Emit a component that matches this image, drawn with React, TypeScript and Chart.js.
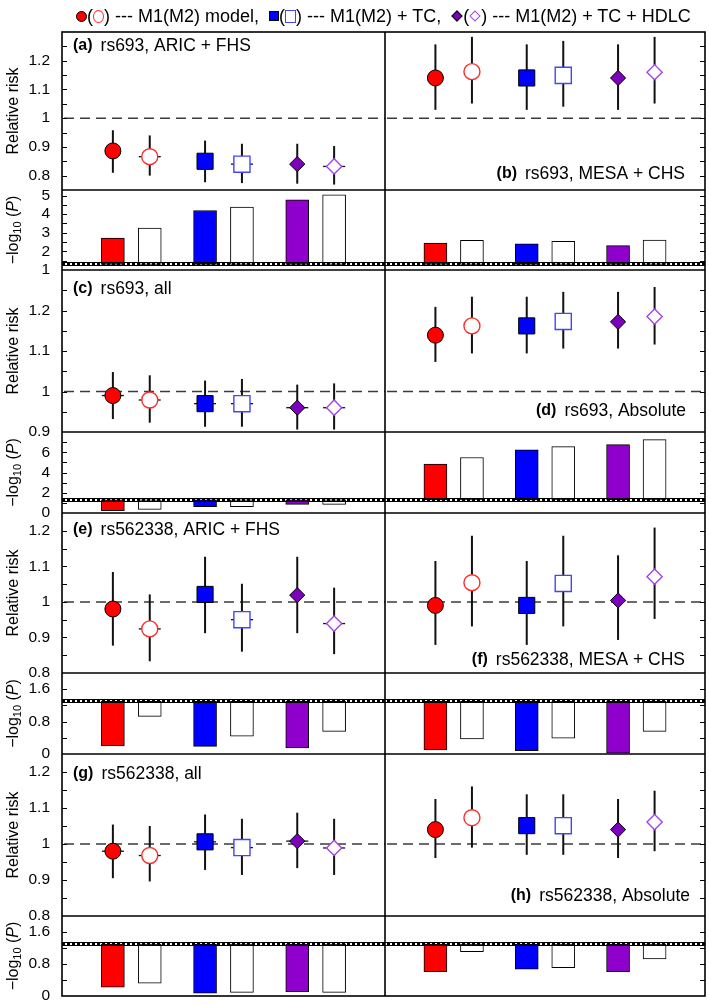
import React, { useEffect, useRef } from 'react';
import { Chart, registerables } from 'chart.js';

Chart.register(...registerables);

const FONT = '"Liberation Sans", Arial, Helvetica, sans-serif';

// ---------------- data ----------------
const MODELS = ['M1', 'M2', 'M1 + TC', 'M2 + TC', 'M1 + TC + HDLC', 'M2 + TC + HDLC'];
const X_POS = [1, 2, 3.5, 4.5, 6, 7];
const X_MIN = -0.38;
const X_MAX = 8.38;

const PANEL_TAGS = ['(a)', '(b)', '(c)', '(d)', '(e)', '(f)', '(g)', '(h)'];
const PANEL_TITLES = [
  'rs693, ARIC + FHS',
  'rs693, MESA + CHS',
  'rs693, all',
  'rs693, Absolute',
  'rs562338, ARIC + FHS',
  'rs562338, MESA + CHS',
  'rs562338, all',
  'rs562338, Absolute',
];

// relative risk (point estimate), 95% CI and -log10(P) for each panel
const RR_A = [0.886, 0.866, 0.85, 0.84, 0.84, 0.832];
const LO_A = [0.81, 0.8, 0.777, 0.774, 0.772, 0.769];
const HI_A = [0.958, 0.94, 0.922, 0.911, 0.911, 0.903];
const LP_A = [2.72, 3.25, 4.2, 4.38, 4.77, 5.04];

const RR_B = [1.14, 1.162, 1.14, 1.149, 1.14, 1.16];
const LO_B = [1.029, 1.051, 1.029, 1.04, 1.029, 1.051];
const HI_B = [1.257, 1.283, 1.257, 1.269, 1.257, 1.283];
const LP_B = [2.45, 2.59, 2.4, 2.54, 2.31, 2.61];

const RR_C = [0.99, 0.979, 0.97, 0.97, 0.96, 0.96];
const LO_C = [0.932, 0.923, 0.913, 0.913, 0.906, 0.906];
const HI_C = [1.048, 1.04, 1.027, 1.031, 1.017, 1.02];
const LP_C = [0.23, 0.36, 0.62, 0.62, 0.85, 0.85];

const RR_D = [1.139, 1.162, 1.162, 1.173, 1.172, 1.185];
const LO_D = [1.073, 1.094, 1.094, 1.106, 1.106, 1.116];
const HI_D = [1.209, 1.234, 1.234, 1.246, 1.246, 1.258];
const LP_D = [4.82, 5.48, 6.23, 6.56, 6.75, 7.25];

const RR_E = [0.98, 0.924, 1.021, 0.95, 1.019, 0.939];
const LO_E = [0.877, 0.833, 0.912, 0.86, 0.912, 0.853];
const HI_E = [1.084, 1.021, 1.127, 1.051, 1.127, 1.04];
const LP_E = [0.2, 0.93, 0.19, 0.44, 0.15, 0.56];

const RR_F = [0.99, 1.054, 0.99, 1.052, 1.004, 1.071];
const LO_F = [0.879, 0.931, 0.879, 0.931, 0.893, 0.952];
const HI_F = [1.115, 1.186, 1.115, 1.186, 1.131, 1.209];
const LP_F = [0.1, 0.37, 0.08, 0.39, 0.02, 0.56];

const RR_G = [0.98, 0.968, 1.006, 0.99, 1.008, 0.989];
const LO_G = [0.905, 0.896, 0.928, 0.914, 0.933, 0.914];
const HI_G = [1.054, 1.05, 1.082, 1.07, 1.087, 1.07];
const LP_G = [0.22, 0.32, 0.07, 0.09, 0.11, 0.09];

const RR_H = [1.04, 1.073, 1.051, 1.051, 1.04, 1.061];
const LO_H = [0.961, 0.99, 0.97, 0.97, 0.961, 0.98];
const HI_H = [1.125, 1.16, 1.138, 1.138, 1.125, 1.148];
const LP_H = [0.61, 1.11, 0.67, 0.71, 0.61, 0.93];

const REF_RR = 1;
const P_THRESHOLD = 1.301; // -log10(0.05)

// axis ranges / ticks per row
const RR_MIN = [0.75, 0.9, 0.8, 0.8];
const RR_MAX = [1.3, 1.3, 1.25, 1.25];
const RR_STEP = 0.05;
const RR_LABELS = [
  [0.8, 0.9, 1, 1.1, 1.2],
  [0.9, 1, 1.1, 1.2],
  [0.8, 0.9, 1, 1.1, 1.2],
  [0.8, 0.9, 1, 1.1, 1.2],
];
const LP_MIN = [1, 0, 0, 0];
const LP_MAX = [5.3, 8, 2, 2];
const LP_STEP = [0.5, 1, 0.4, 0.4];
const LP_LABELS = [
  [1, 2, 3, 4, 5],
  [0, 2, 4, 6],
  [0, 0.8, 1.6],
  [0, 0.8, 1.6],
];

const LEGEND_TEXT = ['M1(M2) model', 'M1(M2) + TC', 'M1(M2) + TC + HDLC'];

// ---------------- styles / layout ----------------
const PANELS = [
  { rr: RR_A, lo: LO_A, hi: HI_A, lp: LP_A },
  { rr: RR_B, lo: LO_B, hi: HI_B, lp: LP_B },
  { rr: RR_C, lo: LO_C, hi: HI_C, lp: LP_C },
  { rr: RR_D, lo: LO_D, hi: HI_D, lp: LP_D },
  { rr: RR_E, lo: LO_E, hi: HI_E, lp: LP_E },
  { rr: RR_F, lo: LO_F, hi: HI_F, lp: LP_F },
  { rr: RR_G, lo: LO_G, hi: HI_G, lp: LP_G },
  { rr: RR_H, lo: LO_H, hi: HI_H, lp: LP_H },
];

const RED = '#ff0000';
const BLUE = '#0000ff';
const PURPLE = '#7d00bd';
const BAR_PURPLE = '#9000cc';
const OPEN_RED = '#ff2a2a';
const OPEN_BLUE = '#4444ff';
const OPEN_PURPLE = '#a245e6';

const PT_STYLE = ['circle', 'circle', 'rect', 'rect', 'rectRot', 'rectRot'];
const PT_RADIUS = [8, 8, 11.4, 11.4, 7.6, 7.6];
const PT_FILL = [RED, '#ffffff', BLUE, '#ffffff', PURPLE, '#ffffff'];
const PT_EDGE = ['#000000', OPEN_RED, '#000000', OPEN_BLUE, '#000000', OPEN_PURPLE];
const PT_EDGE_W = [1, 1.4, 1, 1.4, 1, 1.4];
const BAR_FILL = [RED, '#ffffff', BLUE, '#ffffff', BAR_PURPLE, '#ffffff'];

const PLOT_BOX = { left: 62, top: 32, right: 705, bottom: 996 };
const ROW_H = [
  [158, 80],
  [162, 81],
  [160, 81],
  [162, 80],
];
const COL_W = [323, 320];
const Y_AXIS_WIDTH = 62;
const STUB_ON_FILLED = [false, true, false, true];

const LABEL_LAYOUT = [
  { side: 'left', dx: 11, dy: 14 },
  { side: 'right', dx: -20, dy: -16 },
  { side: 'left', dx: 11, dy: 19 },
  { side: 'right', dx: -19, dy: -21 },
  { side: 'left', dx: 11, dy: 17 },
  { side: 'right', dx: -20, dy: -13 },
  { side: 'left', dx: 11, dy: 20 },
  { side: 'right', dx: -15, dy: -20 },
];

// ---------------- helpers ----------------
function tickValues(min: number, max: number, step: number): number[] {
  const out = [min];
  let k = Math.ceil(min / step - 1e-9);
  for (;; k++) {
    const v = +(k * step).toFixed(6);
    if (v > max + 1e-9) break;
    if (Math.abs(v - min) > 1e-9 && Math.abs(v - max) > 1e-9) out.push(v);
  }
  out.push(max);
  return out;
}

const fmt = (v: number) => String(parseFloat(v.toFixed(2)));

function yScale(min: number, max: number, step: number, labels: number[], weight: number, stackWeight: number) {
  return {
    type: 'linear',
    position: 'left',
    stack: 'rows',
    stackWeight,
    weight,
    min,
    max,
    offset: false,
    beginAtZero: false,
    grid: { display: false, offset: false },
    border: { display: false },
    afterBuildTicks: (s: any) => {
      s.ticks = tickValues(min, max, step).map((v) => ({ value: v }));
    },
    afterFit: (s: any) => {
      s.width = Y_AXIS_WIDTH;
    },
    ticks: {
      autoSkip: false,
      padding: 4,
      color: '#000',
      font: { family: FONT, size: 15.5 },
      callback: (v: number) => (labels.some((l) => Math.abs(l - v) < 1e-6) ? fmt(v) : ''),
    },
  };
}

function drawRotated(ctx: CanvasRenderingContext2D, x: number, yc: number, parts: { text: string; font: string; dy?: number }[]) {
  ctx.save();
  ctx.translate(x, yc);
  ctx.rotate(-Math.PI / 2);
  let total = 0;
  parts.forEach((p) => {
    ctx.font = p.font;
    total += ctx.measureText(p.text).width;
  });
  let cx = -total / 2;
  ctx.textBaseline = 'middle';
  ctx.textAlign = 'left';
  ctx.fillStyle = '#000';
  parts.forEach((p) => {
    ctx.font = p.font;
    ctx.fillText(p.text, cx, p.dy || 0);
    cx += ctx.measureText(p.text).width;
  });
  ctx.restore();
}

const figurePlugin = {
  id: 'figure',
  // pin the plot box and the stacked panels to exact row heights / column widths
  afterLayout(chart: any) {
    const a = chart.chartArea;
    a.left = PLOT_BOX.left;
    a.top = PLOT_BOX.top;
    a.right = PLOT_BOX.right;
    a.bottom = PLOT_BOX.bottom;
    a.width = a.right - a.left;
    a.height = a.bottom - a.top;
    let y = a.top;
    for (let r = 0; r < 4; r++) {
      ['yR' + r, 'yP' + r].forEach((id, k) => {
        const s = chart.scales[id];
        const h = ROW_H[r][k];
        s.top = y;
        s.bottom = y + h;
        s.height = h;
        s.left = 0;
        s.right = a.left;
        s.width = a.left;
        s.configure();
        y += h;
      });
    }
    const xL = chart.scales.xL;
    const xR = chart.scales.xR;
    xL.left = a.left;
    xL.right = a.left + COL_W[0];
    xL.width = COL_W[0];
    xL.configure();
    xR.left = xL.right;
    xR.right = a.right;
    xR.width = a.right - xL.right;
    xR.configure();
  },
  beforeDatasetsDraw(chart: any) {
    const ctx: CanvasRenderingContext2D = chart.ctx;
    ctx.save();
    PANELS.forEach((p, idx) => {
      const row = Math.floor(idx / 2);
      const col = idx % 2;
      const xs = chart.scales[col ? 'xR' : 'xL'];
      const ys = chart.scales['yR' + row];
      // reference line RR = 1
      const y1 = ys.getPixelForValue(REF_RR);
      ctx.beginPath();
      ctx.setLineDash([10, 6]);
      ctx.lineDashOffset = -2;
      ctx.strokeStyle = '#3a3a3a';
      ctx.lineWidth = 1.5;
      ctx.moveTo(xs.left, y1);
      ctx.lineTo(xs.right, y1);
      ctx.stroke();
      ctx.setLineDash([]);
      // confidence intervals
      X_POS.forEach((x, i) => {
        const px = xs.getPixelForValue(x);
        ctx.beginPath();
        ctx.strokeStyle = '#111';
        ctx.lineWidth = 2;
        ctx.moveTo(px, ys.getPixelForValue(p.lo[i]));
        ctx.lineTo(px, ys.getPixelForValue(p.hi[i]));
        ctx.stroke();
        if (col === 0 && (i % 2 === 1 || STUB_ON_FILLED[row])) {
          const py = ys.getPixelForValue(p.rr[i]);
          ctx.beginPath();
          ctx.lineWidth = 1.3;
          ctx.moveTo(px - 11, py);
          ctx.lineTo(px + 11, py);
          ctx.stroke();
        }
      });
    });
    ctx.restore();
  },
  afterDatasetsDraw(chart: any) {
    const ctx: CanvasRenderingContext2D = chart.ctx;
    const area = chart.chartArea;
    ctx.save();
    for (let r = 0; r < 4; r++) {
      const ys = chart.scales['yP' + r];
      const y = Math.round(ys.getPixelForValue(P_THRESHOLD));
      ctx.strokeStyle = '#000';
      ctx.lineWidth = 1;
      ctx.beginPath();
      ctx.moveTo(area.left, y - 1.5);
      ctx.lineTo(area.right, y - 1.5);
      ctx.moveTo(area.left, y + 1.5);
      ctx.lineTo(area.right, y + 1.5);
      ctx.stroke();
      ctx.beginPath();
      ctx.lineWidth = 4;
      ctx.setLineDash([3, 2]);
      ctx.moveTo(area.left, y);
      ctx.lineTo(area.right, y);
      ctx.stroke();
      ctx.setLineDash([]);
    }
    ctx.restore();
  },
  afterDraw(chart: any) {
    const ctx: CanvasRenderingContext2D = chart.ctx;
    const area = chart.chartArea;
    const xL = chart.scales.xL;
    const xR = chart.scales.xR;
    ctx.save();
    // inward tick marks
    ctx.strokeStyle = '#000';
    ctx.lineWidth = 1.2;
    for (let r = 0; r < 4; r++) {
      ['yR' + r, 'yP' + r].forEach((id) => {
        const s = chart.scales[id];
        s.ticks.forEach((t: any) => {
          if (Math.abs(t.value - s.min) < 1e-9 || Math.abs(t.value - s.max) < 1e-9) return;
          const py = Math.round(s.getPixelForValue(t.value)) + 0.5;
          ctx.beginPath();
          ctx.moveTo(area.left, py);
          ctx.lineTo(area.left + 5, py);
          ctx.moveTo(area.right, py);
          ctx.lineTo(area.right - 5, py);
          ctx.stroke();
        });
      });
    }
    // frames
    ctx.lineWidth = 1.6;
    ctx.strokeStyle = '#000';
    ctx.strokeRect(area.left, area.top, area.right - area.left, area.bottom - area.top);
    ctx.beginPath();
    ctx.moveTo(xL.right, area.top);
    ctx.lineTo(xL.right, area.bottom);
    for (let r = 0; r < 4; r++) {
      const a = chart.scales['yR' + r];
      const b = chart.scales['yP' + r];
      ctx.moveTo(area.left, a.bottom);
      ctx.lineTo(area.right, a.bottom);
      if (r < 3) {
        ctx.moveTo(area.left, b.bottom);
        ctx.lineTo(area.right, b.bottom);
      }
    }
    ctx.stroke();
    // axis titles
    for (let r = 0; r < 4; r++) {
      const a = chart.scales['yR' + r];
      const b = chart.scales['yP' + r];
      drawRotated(ctx, 14, (a.top + a.bottom) / 2, [{ text: 'Relative risk', font: `16px ${FONT}` }]);
      drawRotated(ctx, 14, (b.top + b.bottom) / 2, [
        { text: '\u2212log', font: `16px ${FONT}` },
        { text: '10', font: `11px ${FONT}`, dy: 4 },
        { text: ' (', font: `16px ${FONT}` },
        { text: 'P', font: `italic 16px ${FONT}` },
        { text: ')', font: `16px ${FONT}` },
      ]);
    }
    // panel labels
    ctx.fillStyle = '#000';
    ctx.textBaseline = 'middle';
    ctx.textAlign = 'left';
    const tagFont = `bold 16px ${FONT}`;
    const titleFont = `17.5px ${FONT}`;
    PANEL_TAGS.forEach((tag, idx) => {
      const row = Math.floor(idx / 2);
      const col = idx % 2;
      const xs = col ? xR : xL;
      const ys = chart.scales['yR' + row];
      const L = LABEL_LAYOUT[idx];
      ctx.font = tagFont;
      const tw = ctx.measureText(tag).width;
      ctx.font = titleFont;
      const sw = ctx.measureText(PANEL_TITLES[idx]).width;
      const gap = 8;
      let x0: number;
      let y: number;
      if (L.side === 'left') {
        x0 = xs.left + L.dx;
        y = ys.top + L.dy;
      } else {
        x0 = xs.right + L.dx - sw - gap - tw;
        y = ys.bottom + L.dy;
      }
      ctx.font = tagFont;
      ctx.fillText(tag, x0, y);
      ctx.font = titleFont;
      ctx.fillText(PANEL_TITLES[idx], x0 + tw + gap, y);
    });
    ctx.restore();
  },
};

function xScale(weight: number, stackWeight: number) {
  return {
    type: 'linear',
    position: 'bottom',
    display: false,
    stack: 'cols',
    stackWeight,
    weight,
    min: X_MIN,
    max: X_MAX,
    offset: false,
    grid: { offset: false },
  };
}

function buildConfig(): any {
  const scales: any = {
    xL: xScale(0, COL_W[0]),
    xR: xScale(1, COL_W[1]),
  };
  let w = 8;
  for (let r = 0; r < 4; r++) {
    scales['yR' + r] = yScale(RR_MIN[r], RR_MAX[r], RR_STEP, RR_LABELS[r], w--, ROW_H[r][0]);
    scales['yP' + r] = yScale(LP_MIN[r], LP_MAX[r], LP_STEP[r], LP_LABELS[r], w--, ROW_H[r][1]);
  }
  const datasets: any[] = [];
  PANELS.forEach((p, idx) => {
    const row = Math.floor(idx / 2);
    const col = idx % 2;
    const xAxisID = col ? 'xR' : 'xL';
    datasets.push({
      type: 'bar',
      label: PANEL_TAGS[idx] + ' -log10(P)',
      xAxisID,
      yAxisID: 'yP' + row,
      data: X_POS.map((x, i) => ({ x, y: [P_THRESHOLD, p.lp[i]] })),
      backgroundColor: BAR_FILL,
      borderColor: '#000',
      borderWidth: 1,
      borderSkipped: false,
      barThickness: 23,
      grouped: false,
      clip: false,
      order: 2,
    });
    datasets.push({
      type: 'scatter',
      label: PANEL_TAGS[idx] + ' RR',
      xAxisID,
      yAxisID: 'yR' + row,
      data: X_POS.map((x, i) => ({ x, y: p.rr[i], model: MODELS[i] })),
      pointStyle: PT_STYLE,
      pointRadius: PT_RADIUS,
      pointBackgroundColor: PT_FILL,
      pointBorderColor: PT_EDGE,
      pointBorderWidth: PT_EDGE_W,
      showLine: false,
      clip: false,
      order: 1,
    });
  });
  return {
    type: 'scatter',
    data: { datasets },
    options: {
      responsive: false,
      animation: false,
      devicePixelRatio: 1,
      events: [],
      layout: { padding: { left: 0, top: 32, right: 4, bottom: 10 } },
      plugins: { legend: { display: false }, tooltip: { enabled: false }, title: { display: false } },
      scales,
    },
    plugins: [figurePlugin],
  };
}

function Shape({ kind, filled, color }: { kind: string; filled: boolean; color: string }) {
  const base: React.CSSProperties = {
    display: 'inline-block',
    boxSizing: 'border-box',
    background: filled ? color : '#fff',
    border: filled ? '1px solid #000' : `1px solid ${color}`,
  };
  if (kind === 'circle') {
    return <span style={{ ...base, width: 11, height: filled ? 11 : 13, borderRadius: '50%' }} />;
  }
  if (kind === 'square') {
    return <span style={{ ...base, width: filled ? 10 : 11, height: filled ? 10 : 13 }} />;
  }
  return <span style={{ ...base, width: 8, height: 8, transform: 'rotate(45deg)', margin: '0 2px' }} />;
}

const LEGEND_KIND = ['circle', 'square', 'diamond'];
const LEGEND_FILL = [RED, BLUE, PURPLE];
const LEGEND_OPEN = [OPEN_RED, OPEN_BLUE, OPEN_PURPLE];

function Legend() {
  return (
    <div
      style={{
        position: 'absolute',
        left: 76,
        top: 5,
        height: 22,
        display: 'flex',
        alignItems: 'center',
        fontFamily: FONT,
        fontSize: 18,
        color: '#000',
        whiteSpace: 'pre',
      }}
    >
      {LEGEND_TEXT.map((t, i) => (
        <span key={t} style={{ display: 'inline-flex', alignItems: 'center' }}>
          <Shape kind={LEGEND_KIND[i]} filled color={LEGEND_FILL[i]} />
          <span>(</span>
          <Shape kind={LEGEND_KIND[i]} filled={false} color={LEGEND_OPEN[i]} />
          <span>{') --- ' + t + (i < 2 ? ',  ' : '')}</span>
        </span>
      ))}
    </div>
  );
}

export default function App() {
  const ref = useRef<HTMLCanvasElement>(null);
  useEffect(() => {
    const chart = new Chart(ref.current as HTMLCanvasElement, buildConfig());
    return () => chart.destroy();
  }, []);
  return (
    <div style={{ position: 'absolute', left: 0, top: 0, width: 709, height: 1006, background: '#fff' }}>
      <canvas ref={ref} width={709} height={1006} style={{ position: 'absolute', left: 0, top: 0, width: 709, height: 1006 }} />
      <Legend />
    </div>
  );
}
